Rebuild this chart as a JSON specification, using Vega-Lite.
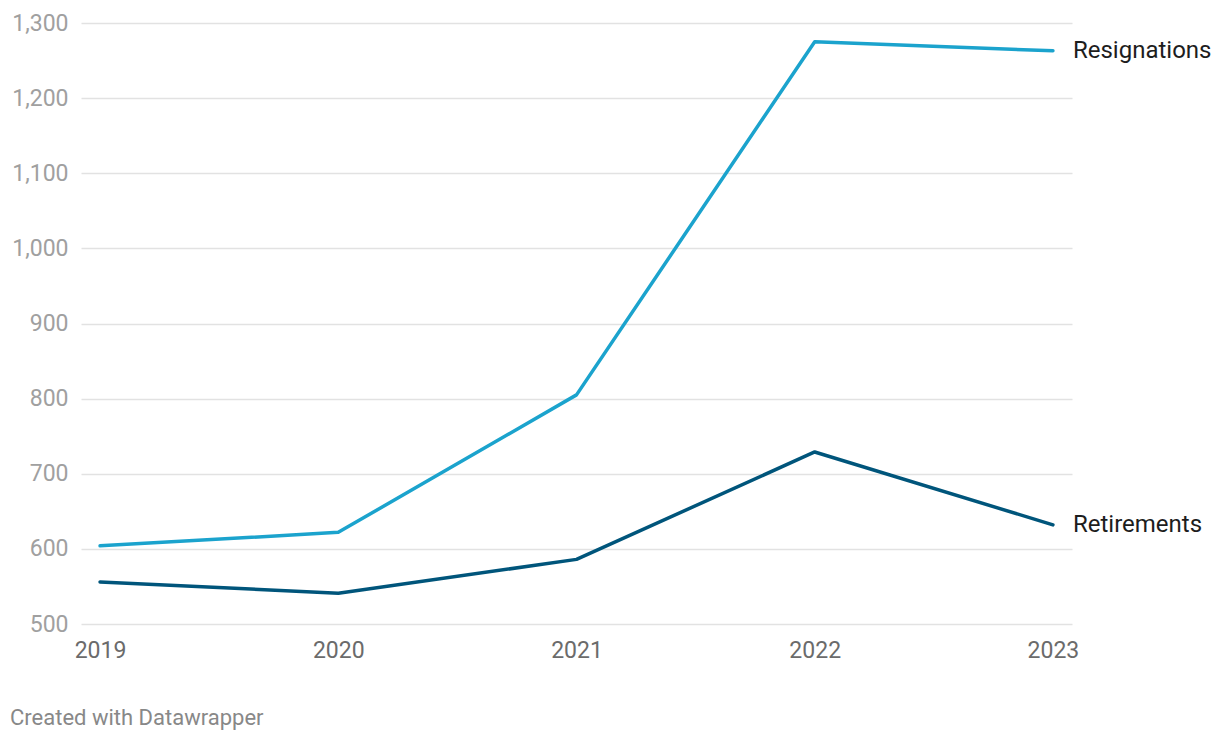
{
  "$schema": "https://vega.github.io/schema/vega-lite/v6.json",
  "width": 991,
  "height": 601,
  "autosize": {"type": "none"},
  "padding": {"left": 81, "top": 23, "right": 148, "bottom": 116},
  "background": "white",
  "config": {
    "view": {"stroke": null},
    "font": "Roboto"
  },
  "title": {
    "text": "Created with Datawrapper",
    "orient": "bottom",
    "anchor": "start",
    "frame": "group",
    "dx": -71,
    "offset": 46,
    "fontSize": 22,
    "fontWeight": "normal",
    "color": "#888888",
    "font": "Roboto"
  },
  "data": {
    "values": [
      {"year": 2019, "series": "Resignations", "value": 604},
      {"year": 2020, "series": "Resignations", "value": 622},
      {"year": 2021, "series": "Resignations", "value": 805},
      {"year": 2022, "series": "Resignations", "value": 1275},
      {"year": 2023, "series": "Resignations", "value": 1263},
      {"year": 2019, "series": "Retirements", "value": 556},
      {"year": 2020, "series": "Retirements", "value": 541},
      {"year": 2021, "series": "Retirements", "value": 586},
      {"year": 2022, "series": "Retirements", "value": 729},
      {"year": 2023, "series": "Retirements", "value": 632}
    ]
  },
  "encoding": {
    "x": {
      "field": "year",
      "type": "quantitative",
      "scale": {"domain": [2018.92, 2023.08], "nice": false, "zero": false},
      "axis": {
        "title": null,
        "values": [2019, 2020, 2021, 2022, 2023],
        "format": "d",
        "grid": false,
        "domain": false,
        "ticks": false,
        "labelFontSize": 23,
        "labelColor": "#6b6b6b",
        "labelPadding": 15,
        "labelFont": "Roboto"
      }
    },
    "y": {
      "field": "value",
      "type": "quantitative",
      "scale": {"domain": [500, 1300], "nice": false, "zero": false},
      "axis": {
        "title": null,
        "values": [500, 600, 700, 800, 900, 1000, 1100, 1200, 1300],
        "format": ",.0f",
        "grid": true,
        "gridColor": "#e2e2e2",
        "gridWidth": 1.5,
        "domain": false,
        "ticks": false,
        "labelFontSize": 23,
        "labelColor": "#a0a0a0",
        "labelPadding": 13,
        "labelFont": "Roboto"
      }
    },
    "color": {
      "field": "series",
      "type": "nominal",
      "scale": {"domain": ["Resignations", "Retirements"], "range": ["#1ba3cd", "#00557b"]},
      "legend": null
    }
  },
  "layer": [
    {
      "mark": {"type": "line", "strokeWidth": 3.5, "strokeCap": "round", "strokeJoin": "round"}
    },
    {
      "transform": [{"filter": "datum.year == 2023"}],
      "mark": {"type": "text", "align": "left", "baseline": "middle", "dx": 20, "fontSize": 24, "font": "Roboto", "color": "#1d1d1d"},
      "encoding": {
        "text": {"field": "series"},
        "color": {"value": "#1d1d1d"}
      }
    }
  ]
}
